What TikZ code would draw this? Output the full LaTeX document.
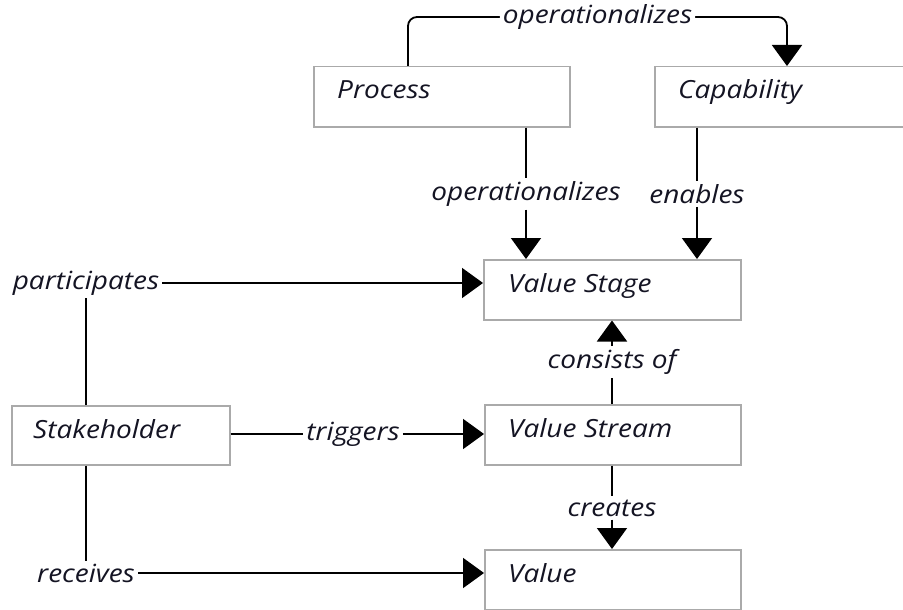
\documentclass[tikz,border=0pt]{standalone}
\usepackage{fontspec}
\setmainfont[FakeStretch=1.12]{Open Sans}
\usetikzlibrary{arrows.meta,calc}
\definecolor{boxgray}{RGB}{170,170,170}
\definecolor{txt}{RGB}{20,20,35}
\begin{document}
\begin{tikzpicture}[x=1pt,y=-1pt,
  box/.style={draw=boxgray, line width=1.5pt, minimum height=60pt, inner sep=0pt, anchor=north west},
  boxtext/.style={anchor=base west, font=\itshape\fontsize{25}{30}\selectfont, inner sep=0pt, text=txt},
  elab/.style={font=\itshape\fontsize{25}{30}\selectfont, inner sep=3pt, text=txt},
  conn/.style={line width=1.8pt, draw=black},
  arr/.style={conn, -{Triangle[length=21pt,width=30pt]}},
]
\useasboundingbox (0,0) rectangle (903,610);
\fill[white] (0,0) rectangle (903,610);

% boxes
\node[box, minimum width=256pt] (proc) at (313,66) {};
\node[box, minimum width=258pt] (cap) at (654,66) {};
\node[box, minimum width=257pt] (vstage) at (483,259) {};
\node[box, minimum width=218pt, minimum height=59pt] (stake) at (11,405) {};
\node[box, minimum width=256pt] (vstream) at (484,404) {};
\node[box, minimum width=256pt] (value) at (484,549) {};

% box texts
\node[boxtext] (tproc) at ($(proc.north west)+(24,33)$) {Process};
\node[boxtext] (tcap) at ($(cap.north west)+(24,33)$) {Capability};
\node[boxtext] (tvstage) at ($(vstage.north west)+(25,33)$) {Value Stage};
\node[boxtext] (tstake) at ($(stake.north west)+(22,33)$) {Stakeholder};
\node[boxtext] (tvstream) at ($(vstream.north west)+(24,33)$) {Value Stream};
\node[boxtext] (tvalue) at ($(value.north west)+(24,33)$) {Value};

% top connector Process -> Capability
\coordinate (c1) at ($(proc.north west)+(95,-49)$);
\coordinate (c2) at ($(cap.north west)+(133,-49)$);
\draw[arr, rounded corners=9pt] ($(proc.north west)+(95,0)$) -- (c1) -- node[elab, fill=white] (ltop) {operationalizes} (c2) -- ($(cap.north west)+(133,0)$);

% Process -> Value Stage
\node[elab] (lop) at (526,194) {operationalizes};
\draw[conn] (proc.south -| lop) -- (lop);
\draw[arr] (lop) -- (lop |- vstage.north);

% Capability -> Value Stage
\node[elab] (len) at (697,194) {enables};
\draw[conn] (cap.south -| len) -- (len);
\draw[arr] (len) -- (len |- vstage.north);

% Value Stream -> Value Stage
\node[elab] (lcons) at (612,362) {consists of};
\draw[conn] (vstream.north -| lcons) -- (lcons);
\draw[arr] (lcons) -- (lcons |- vstage.south);

% Value Stream -> Value
\node[elab] (lcre) at (612,508) {creates};
\draw[conn] (vstream.south -| lcre) -- (lcre);
\draw[arr] (lcre) -- (lcre |- value.north);

% Stakeholder -> Value Stage
\node[elab] (lpart) at (86,283) {participates};
\draw[conn] (stake.north -| lpart) -- (lpart);
\draw[arr] (lpart) -- (lpart -| vstage.west);

% Stakeholder -> Value Stream
\node[elab] (ltrig) at (353,434) {triggers};
\draw[conn] (stake.east |- ltrig) -- (ltrig);
\draw[arr] (ltrig) -- (ltrig -| vstream.west);

% Stakeholder -> Value
\node[elab] (lrec) at (86,573) {receives};
\draw[conn] (stake.south -| lrec) -- (lrec);
\draw[arr] (lrec) -- (lrec -| value.west);
\end{tikzpicture}
\end{document}
